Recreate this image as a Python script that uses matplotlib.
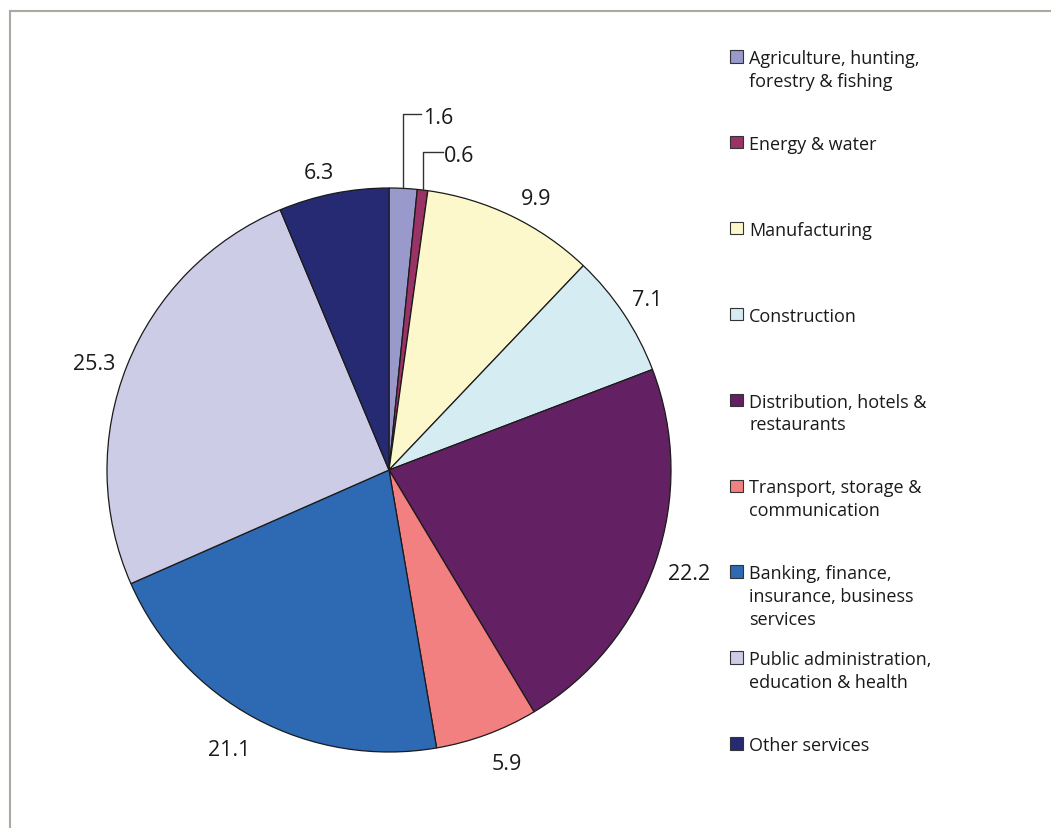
import numpy as np
import matplotlib
matplotlib.use("Agg")
import matplotlib.pyplot as plt
from matplotlib.patches import Rectangle
from matplotlib.lines import Line2D

categories = [
    "Agriculture, hunting,\nforestry & fishing",
    "Energy & water",
    "Manufacturing",
    "Construction",
    "Distribution, hotels &\nrestaurants",
    "Transport, storage &\ncommunication",
    "Banking, finance,\ninsurance, business\nservices",
    "Public administration,\neducation & health",
    "Other services",
]
values = [1.6, 0.6, 9.9, 7.1, 22.2, 5.9, 21.1, 25.3, 6.3]
value_labels = ["1.6", "0.6", "9.9", "7.1", "22.2", "5.9", "21.1", "25.3", "6.3"]
colors = ["#9999cc", "#993366", "#fcf8cc", "#d4ecf2", "#632063",
          "#f28080", "#2e69b3", "#ccccE6", "#262a73"]

# layout: radial gap (px) between pie edge and label box, plus small nudges (px, y down)
label_gaps = [0, 0, 19.5, 16, 16, 23, 26, 15, 16.5]
label_nudge = [(0, 0), (0, 0), (10, 5), (-2, -4), (-1, 0), (7, -3), (-4, -2), (1, 4), (-8, 1)]
baseline_fix = 3
leader_tops = [115, 153]
leader_len = [18, 20]

W, H = 1051, 829
plt.rcParams['font.family'] = ['Open Sans', 'DejaVu Sans']
FS = 13
VFS = 15.5

fig = plt.figure(figsize=(W / 100, H / 100), dpi=100)
ax = fig.add_axes([0, 0, 1, 1])

cx, cy, R = 389, H - 471, 282
wedges, _ = ax.pie(values, colors=colors, startangle=90, counterclock=False,
                   center=(cx, cy), radius=R, frame=True,
                   wedgeprops=dict(edgecolor="#1a1a1a", linewidth=0.9))
ax.set_xlim(0, W)
ax.set_ylim(0, H)
ax.set_aspect('equal')
ax.axis('off')

# frame lines (top and left)
ax.add_line(Line2D([10, W + 5], [H - 12, H - 12], color="#aca8a2", lw=1.5))
ax.add_line(Line2D([10, 10], [-5, H - 12], color="#aca8a2", lw=1.5))

fig.canvas.draw()
renderer = fig.canvas.get_renderer()

total = sum(values)
cum = 0
for i, v in enumerate(values):
    mid = (cum + v / 2) / total * 2 * np.pi
    cum += v
    s, c = np.sin(mid), np.cos(mid)
    ex, ey = cx + R * s, cy + R * c
    if i < 2:
        top = H - leader_tops[i]
        hx = ex + leader_len[i]
        ax.plot([ex, ex, hx], [ey, top, top], color="#333333", lw=1.0)
        ax.text(hx + 1.5, top - baseline_fix, value_labels[i], ha='left', va='center',
                fontsize=VFS, color="#1a1a1a")
    else:
        t = ax.text(0, 0, value_labels[i], ha='center', va='center',
                    fontsize=VFS, color="#1a1a1a")
        bb = t.get_window_extent(renderer)
        wh, hh = bb.width / 2, 8.5
        d = R + label_gaps[i]
        nx, ny = label_nudge[i]
        t.set_position((cx + d * s + wh * s + nx,
                        cy + d * c + hh * c - ny - baseline_fix))

# legend
for i, (lab, col) in enumerate(zip(categories, colors)):
    ytop = 57 + i * 85.9
    ax.add_patch(Rectangle((730, H - ytop - 6.5), 12.5, 12.5, facecolor=col,
                           edgecolor="#333333", lw=0.8))
    ax.text(749, H - ytop + 7, lab, ha='left', va='top', fontsize=FS,
            color="#1a1a1a", linespacing=1.35)

fig.savefig("out.png", dpi=100)
